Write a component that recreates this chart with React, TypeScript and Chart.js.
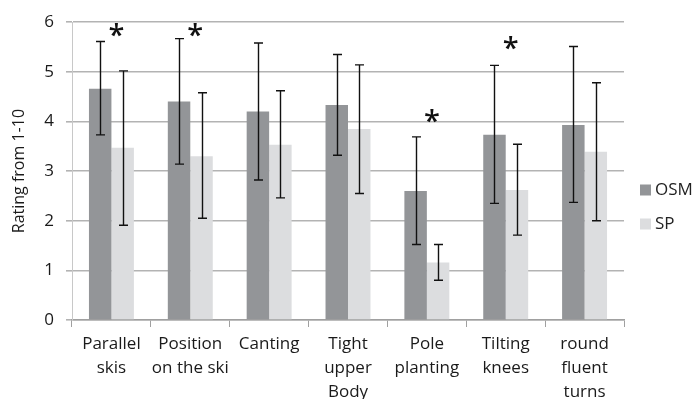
import React, { useEffect, useRef } from "react";
import { Chart, registerables } from "chart.js";

Chart.register(...registerables);

const categories: string[][] = [
  ["Parallel", "skis"],
  ["Position", "on the ski"],
  ["Canting"],
  ["Tight", "upper", "Body"],
  ["Pole", "planting"],
  ["Tilting", "knees"],
  ["round", "fluent", "turns"],
];
const seriesNames = ["OSM", "SP"];
const osmMean = [4.66, 4.4, 4.2, 4.33, 2.6, 3.73, 3.93];
const osmLow = [3.73, 3.14, 2.82, 3.32, 1.52, 2.35, 2.37];
const osmHigh = [5.61, 5.67, 5.58, 5.35, 3.69, 5.13, 5.51];
const spMean = [3.47, 3.3, 3.53, 3.85, 1.16, 2.62, 3.39];
const spLow = [1.91, 2.05, 2.46, 2.55, 0.8, 1.71, 2.0];
const spHigh = [5.02, 4.58, 4.62, 5.14, 1.52, 3.54, 4.78];
const starCategory = [0, 1, 4, 5];
const starValue = [5.78, 5.78, 4.05, 5.52];
const yTicks = [0, 1, 2, 3, 4, 5, 6];

const FONT = "'Open Sans', sans-serif";
const OSM_COLOR = "#939598";
const SP_COLOR = "#dcdddf";

export default function App() {
  const ref = useRef<HTMLCanvasElement | null>(null);
  useEffect(() => {
    document.body.style.margin = "0";
    const lows = [osmLow, spLow];
    const highs = [osmHigh, spHigh];

    const errorBars = {
      id: "errorBars",
      afterDatasetsDraw(chart: any) {
        const ctx = chart.ctx;
        const y = chart.scales.y;
        ctx.save();
        ctx.strokeStyle = "#111";
        ctx.lineWidth = 1.4;
        chart.data.datasets.forEach((_: any, di: number) => {
          const meta = chart.getDatasetMeta(di);
          meta.data.forEach((bar: any, i: number) => {
            const x = Math.round(bar.x) + 0.5;
            const yl = y.getPixelForValue(lows[di][i]);
            const yh = y.getPixelForValue(highs[di][i]);
            ctx.beginPath();
            ctx.moveTo(x, yl);
            ctx.lineTo(x, yh);
            ctx.moveTo(x - 4.5, yl);
            ctx.lineTo(x + 4.5, yl);
            ctx.moveTo(x - 4.5, yh);
            ctx.lineTo(x + 4.5, yh);
            ctx.stroke();
          });
        });
        // significance stars
        ctx.fillStyle = "#111";
        ctx.font = `600 29px ${FONT}`;
        ctx.textAlign = "center";
        ctx.textBaseline = "middle";
        const xs = chart.scales.x;
        starCategory.forEach((c, k) => {
          const cx = xs.getPixelForValue(c) + 5;
          const cy = y.getPixelForValue(starValue[k]);
          ctx.fillText("*", cx, cy + 4);
        });
        ctx.restore();
      },
    };

    const customLegend = {
      id: "customLegend",
      afterDraw(chart: any) {
        const ctx = chart.ctx;
        ctx.save();
        ctx.font = `17px ${FONT}`;
        ctx.textBaseline = "middle";
        ctx.textAlign = "left";
        const area = chart.chartArea;
        const baseX = area.right + 16;
        const baseY = 190;
        chart.data.datasets.forEach((ds: any, i: number) => {
          const yy = baseY + i * 34;
          ctx.fillStyle = ds.backgroundColor;
          ctx.fillRect(baseX, yy - 5.5, 11, 11);
          ctx.fillStyle = "#222";
          ctx.fillText(ds.label, baseX + 15, yy);
        });
        ctx.restore();
      },
    };

    const chart = new Chart(ref.current as HTMLCanvasElement, {
      type: "bar",
      data: {
        labels: categories,
        datasets: [
          { label: seriesNames[0], data: osmMean, backgroundColor: OSM_COLOR },
          { label: seriesNames[1], data: spMean, backgroundColor: SP_COLOR },
        ],
      },
      options: {
        animation: false,
        responsive: false,
        layout: { padding: { top: 19, right: 71, left: 0, bottom: 0 } },
        datasets: { bar: { categoryPercentage: 0.57, barPercentage: 1 } },
        plugins: { legend: { display: false }, tooltip: { enabled: false } },
        scales: {
          x: {
            afterFit(scale: any) {
              scale.height = 79;
            },
            grid: {
              offset: true,
              drawOnChartArea: false,
              drawTicks: true,
              tickLength: 7,
              color: "#a0a0a0",
              lineWidth: 1,
            },
            border: { color: "#a0a0a0", width: 1.5 },
            ticks: {
              color: "#1a1a1a",
              font: { family: FONT, size: 17, lineHeight: 1.41 },
              padding: 5,
              maxRotation: 0,
              autoSkip: false,
            },
          },
          y: {
            min: 0,
            max: 6,
            afterFit(scale: any) {
              scale.width = 72;
            },
            afterBuildTicks(scale: any) {
              scale.ticks = yTicks.map((v) => ({ value: v }));
            },
            grid: {
              color: "#b3b3b3",
              lineWidth: 1.6,
              tickLength: 6,
            },
            border: { color: "#c8c8c8", width: 1 },
            ticks: {
              color: "#1a1a1a",
              font: { family: FONT, size: 17 },
              padding: 12,
            },
            title: {
              display: true,
              text: "Rating from 1-10",
              color: "#1a1a1a",
              font: { family: FONT, size: 16 },
              padding: { top: 10, bottom: 0 },
            },
          },
        },
      },
      plugins: [errorBars, customLegend],
    });
    return () => chart.destroy();
  }, []);

  return (
    <div style={{ width: 695, height: 399 }}>
      <canvas ref={ref} width={695} height={399} />
    </div>
  );
}
